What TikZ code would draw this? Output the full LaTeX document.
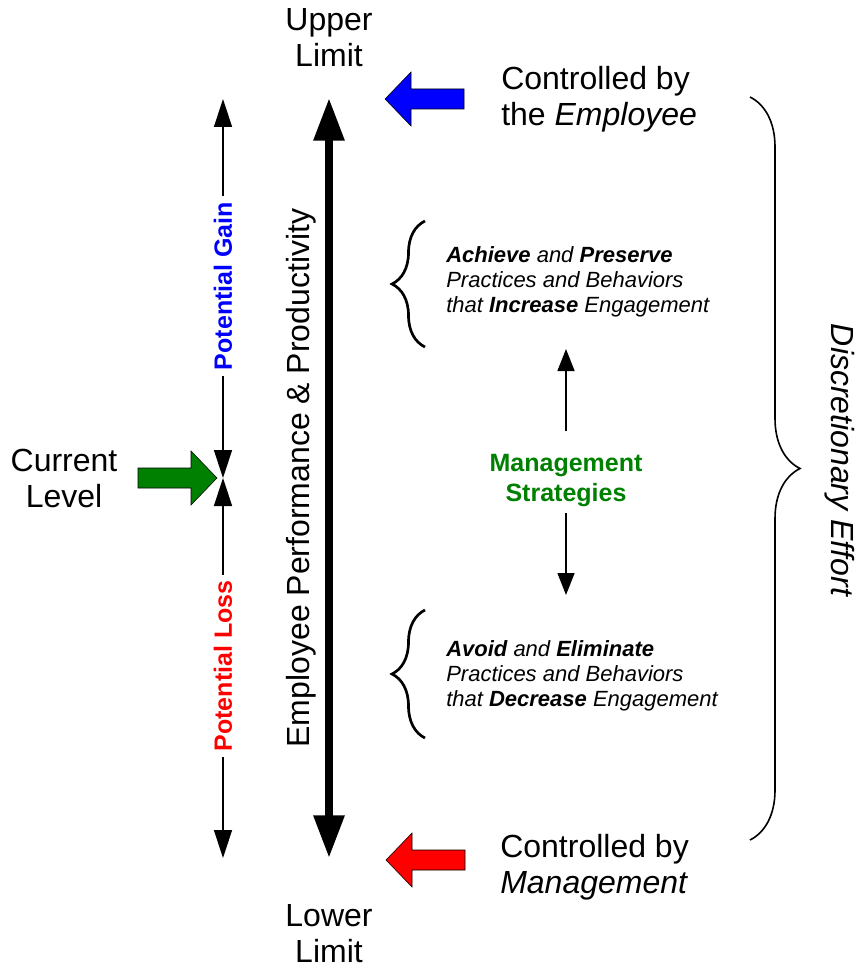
\documentclass[tikz,border=0pt]{standalone}
\usepackage{fontspec}
\setmainfont{Liberation Sans}
\usetikzlibrary{arrows.meta,decorations.pathreplacing}
\definecolor{stratgreen}{RGB}{0,128,0}
\tikzset{
  bigtext/.style={font=\fontsize{24}{27}\selectfont, align=center, inner sep=0pt},
  sidetext/.style={font=\fontsize{24}{27}\selectfont, align=left, anchor=west, inner sep=0pt},
  smalltext/.style={font=\fontsize{16.5}{18.75}\selectfont\itshape, align=left, anchor=west, inner sep=0pt},
  gainloss/.style={font=\fontsize{18.75}{22}\selectfont\bfseries, rotate=90, inner sep=4pt},
  thinarrow/.style={-{Triangle[length=21pt,width=13.5pt]}, line width=1.1pt},
  midarrow/.style={-{Triangle[length=16.5pt,width=12.75pt]}, line width=1.1pt},
  mainarrow/.style={{Triangle[length=32pt,width=22pt]}-{Triangle[length=32pt,width=22pt]}, line width=6pt},
  curly/.style={decorate, decoration={brace, amplitude=#1}},
  pics/fatarrow/.style={code={
    \draw[fill=#1, line width=0.4pt] (0,0) -- (26,-27) -- (26,-10) -- (79,-10) -- (79,10) -- (26,10) -- (26,27) -- cycle;
  }}
}

\begin{document}
\begin{tikzpicture}[x=0.75pt, y=-0.75pt]
   \useasboundingbox (0,0) rectangle (857,969);

   % limits and the main scale
   \node[bigtext] (upper) at (329,38) {Upper\\Limit};
   \node[bigtext] (lower) at (329,934) {Lower\\Limit};
   \node[bigtext, rotate=90] (perf) at (301,478) {Employee Performance \& Productivity};
   \coordinate (maintop) at (329,98);
   \coordinate (mainbot) at (329,858);
   \draw[mainarrow] (maintop) -- (mainbot);

   % left side
   \node[bigtext] (current) at (64,478) {Current\\Level};
   \node[gainloss, text=blue] (gain) at (223,286) {Potential Gain};
   \node[gainloss, text=red] (loss) at (223,666) {Potential Loss};
   \coordinate (gaintop) at (223,99);
   \coordinate (level) at (223,478);
   \coordinate (lossbot) at (223,858);
   \draw[thinarrow] (gain) -- (gaintop);
   \draw[thinarrow] (gain) -- (level);
   \draw[thinarrow] (loss) -- (level);
   \draw[thinarrow] (loss) -- (lossbot);
   \pic[rotate=180] at (217,478) {fatarrow=stratgreen};

   % right side
   \node[sidetext] (employee) at (501,99) {Controlled by\\the \textit{Employee}};
   \node[sidetext] (management) at (500,867) {Controlled by\\\textit{Management}};
   \pic at (385,99) {fatarrow=blue};
   \pic at (386,860) {fatarrow=red};

   \node[smalltext] (achieve) at (446,282) {\textbf{Achieve} and \textbf{Preserve}\\Practices and Behaviors\\that \textbf{Increase} Engagement};
   \node[smalltext] (avoid) at (446,676) {\textbf{Avoid} and \textbf{Eliminate}\\Practices and Behaviors\\that \textbf{Decrease} Engagement};
   \draw[curly=24.75pt, line width=2pt] (425,347) -- (425,221);
   \draw[curly=24.75pt, line width=2pt] (425,738) -- (425,610);

   \node[font=\fontsize{18.75}{22.5}\selectfont\bfseries, text=stratgreen, align=center] (strat) at (566,481) {Management\\Strategies};
   \coordinate (up) at (566,349);
   \coordinate (down) at (566,595);
   \draw[midarrow, shorten <=14pt] (strat) -- (up);
   \draw[midarrow, shorten <=1pt] (strat) -- (down);

   \draw[curly=37.5pt, line width=1.2pt] (750,97) -- (750,840);
   \node[bigtext, rotate=-90, font=\fontsize{24}{27}\selectfont\itshape] (discr) at (840,460) {Discretionary Effort};
\end{tikzpicture}
\end{document}
